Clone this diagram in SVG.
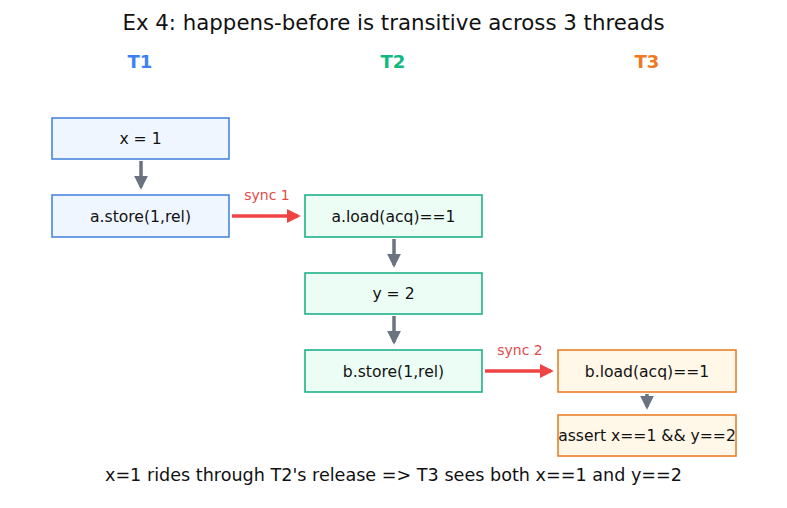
<svg xmlns="http://www.w3.org/2000/svg" width="787" height="508" viewBox="0 0 787 508">
<defs>
<marker id="ag" viewBox="0 0 10 10" refX="8" refY="5" markerWidth="4" markerHeight="4" orient="auto" markerUnits="strokeWidth"><path d="M0,0 L10,5 L0,10 z" fill="#6b7280"/></marker>
<marker id="ar" viewBox="0 0 10 10" refX="8" refY="5" markerWidth="4" markerHeight="4" orient="auto" markerUnits="strokeWidth"><path d="M0,0 L10,5 L0,10 z" fill="#ef4444"/></marker>
</defs>
<style>
text{font-family:"DejaVu Sans",sans-serif;text-anchor:middle;fill:#111}
.box{font-size:15.6px}
.t1 rect{fill:#eff6ff;stroke:#4a86e0;stroke-width:1.6}
.t2 rect{fill:#ecfdf5;stroke:#1fb287;stroke-width:1.6}
.t3 rect{fill:#fff7e8;stroke:#ea7f2a;stroke-width:1.6}
.g{stroke:#6b7280;stroke-width:3.5;fill:none;marker-end:url(#ag)}
.r{stroke:#ef4444;stroke-width:3.5;fill:none;marker-end:url(#ar)}
.lab{font-size:14px;fill:#e24a4a}
.hd{font-size:18px;font-weight:bold}
</style>
<rect width="787" height="508" fill="#fff"/>
<text x="393.5" y="30" style="font-size:21.3px">Ex 4: happens-before is transitive across 3 threads</text>
<text x="140" y="68" class="hd" style="fill:#3b82f6">T1</text>
<text x="393" y="68" class="hd" style="fill:#10b981">T2</text>
<text x="647" y="68" class="hd" style="fill:#f07820">T3</text>
<g id="connectors">
<line class="g" x1="141" y1="161" x2="141" y2="187"/>
<line class="g" x1="394" y1="239" x2="394" y2="265"/>
<line class="g" x1="394" y1="316" x2="394" y2="342"/>
<line class="g" x1="647" y1="394" x2="647" y2="407"/>
<line class="r" x1="232" y1="216" x2="298" y2="216"/>
<text class="lab" x="267" y="200">sync 1</text>
<line class="r" x1="485" y1="371" x2="551" y2="371"/>
<text class="lab" x="520" y="355">sync 2</text>
</g>
<g id="n1" class="t1"><rect x="52" y="118" width="177" height="41"/><text class="box" x="140.5" y="143.5">x = 1</text></g>
<g id="n2" class="t1"><rect x="52" y="195" width="177" height="42"/><text class="box" x="140.5" y="221.5">a.store(1,rel)</text></g>
<g id="n3" class="t2"><rect x="305" y="195" width="177" height="42"/><text class="box" x="393.5" y="221.5">a.load(acq)==1</text></g>
<g id="n4" class="t2"><rect x="305" y="273" width="177" height="41"/><text class="box" x="393.5" y="298.5">y = 2</text></g>
<g id="n5" class="t2"><rect x="305" y="350" width="177" height="42"/><text class="box" x="393.5" y="376.5">b.store(1,rel)</text></g>
<g id="n6" class="t3"><rect x="558" y="350" width="178" height="42"/><text class="box" x="647" y="376.5">b.load(acq)==1</text></g>
<g id="n7" class="t3"><rect x="558" y="415" width="178" height="41"/><text class="box" x="647" y="441">assert x==1 &amp;&amp; y==2</text></g>
<text x="393.5" y="481" style="font-size:17.6px">x=1 rides through T2's release =&gt; T3 sees both x==1 and y==2</text>
</svg>
